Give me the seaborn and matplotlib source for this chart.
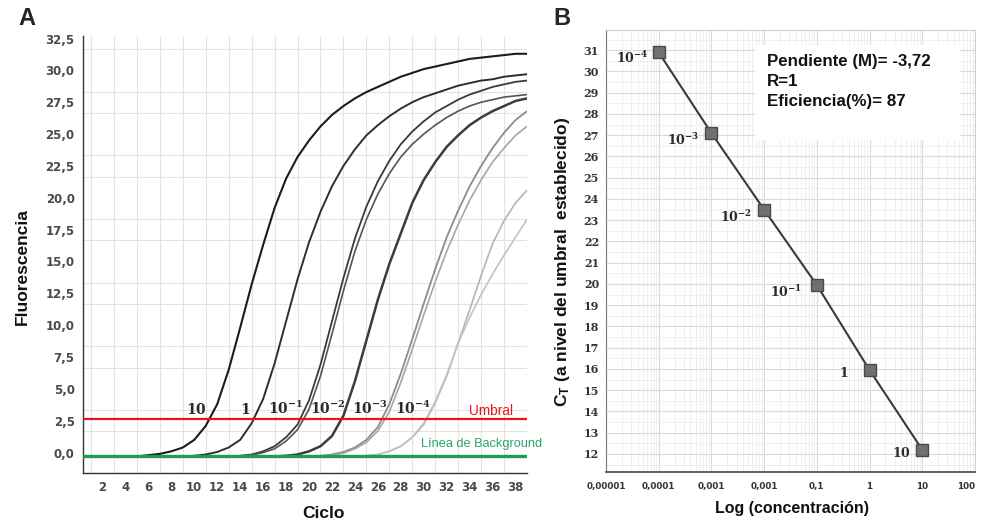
import matplotlib
matplotlib.use("Agg")
import matplotlib.pyplot as plt
import matplotlib.ticker as mticker
from matplotlib.patches import Rectangle
import pandas as pd
import seaborn as sns

# ---------------- panel A: curvas de amplificacion ----------------
cycles = list(range(1, 40))

curve_10 = [-0.3, -0.3, -0.3, -0.3, -0.3, -0.2, -0.1, 0.1, 0.4, 1.0,
            2.1, 3.8, 6.5, 9.8, 13.2, 16.3, 19.2, 21.5, 23.2, 24.5,
            25.6, 26.5, 27.2, 27.8, 28.3, 28.7, 29.1, 29.5, 29.8, 30.1,
            30.3, 30.5, 30.7, 30.9, 31.0, 31.1, 31.2, 31.3, 31.3]
curve_1 = [-0.3, -0.3, -0.3, -0.3, -0.3, -0.3, -0.3, -0.3, -0.3, -0.25,
           -0.15, 0.05, 0.4, 1.0, 2.3, 4.2, 7.0, 10.3, 13.6, 16.5,
           18.9, 20.9, 22.5, 23.8, 24.9, 25.7, 26.4, 27.0, 27.5, 27.9,
           28.2, 28.5, 28.8, 29.0, 29.2, 29.3, 29.5, 29.6, 29.7]
curve_1e1a = [-0.3, -0.3, -0.3, -0.3, -0.3, -0.3, -0.3, -0.3, -0.3, -0.3,
              -0.3, -0.3, -0.3, -0.25, -0.15, 0.1, 0.5, 1.2, 2.2, 4.1,
              6.9, 10.3, 13.7, 16.8, 19.3, 21.3, 22.9, 24.2, 25.2, 26.0,
              26.7, 27.2, 27.7, 28.1, 28.4, 28.7, 28.9, 29.1, 29.2]
curve_1e1b = [-0.3, -0.3, -0.3, -0.3, -0.3, -0.3, -0.3, -0.3, -0.3, -0.3,
              -0.3, -0.3, -0.3, -0.3, -0.2, 0.0, 0.3, 0.9, 1.8, 3.4,
              6.0, 9.3, 12.7, 15.8, 18.3, 20.3, 21.9, 23.2, 24.2, 25.0,
              25.7, 26.3, 26.8, 27.2, 27.5, 27.7, 27.9, 28.0, 28.1]
curve_1e2 = [-0.3, -0.3, -0.3, -0.3, -0.3, -0.3, -0.3, -0.3, -0.3, -0.3,
             -0.3, -0.3, -0.3, -0.3, -0.3, -0.3, -0.3, -0.25, -0.15, 0.1,
             0.5, 1.3, 2.9, 5.6, 8.8, 12.0, 14.8, 17.2, 19.6, 21.4,
             22.8, 24.0, 24.9, 25.7, 26.3, 26.8, 27.2, 27.6, 27.8]
curve_1e3a = [-0.3, -0.3, -0.3, -0.3, -0.3, -0.3, -0.3, -0.3, -0.3, -0.3,
              -0.3, -0.3, -0.3, -0.3, -0.3, -0.3, -0.3, -0.3, -0.3, -0.3,
              -0.25, -0.15, 0.05, 0.4, 1.0, 2.0, 3.8, 6.2, 8.9, 11.7,
              14.4, 16.9, 19.0, 20.9, 22.5, 23.9, 25.1, 26.1, 26.8]
curve_1e3b = [-0.3, -0.3, -0.3, -0.3, -0.3, -0.3, -0.3, -0.3, -0.3, -0.3,
              -0.3, -0.3, -0.3, -0.3, -0.3, -0.3, -0.3, -0.3, -0.3, -0.3,
              -0.3, -0.2, -0.05, 0.3, 0.8, 1.7, 3.2, 5.5, 8.1, 10.8,
              13.4, 15.8, 17.9, 19.8, 21.4, 22.8, 23.9, 24.9, 25.6]
curve_1e4a = [-0.3, -0.3, -0.3, -0.3, -0.3, -0.3, -0.3, -0.3, -0.3, -0.3,
              -0.3, -0.3, -0.3, -0.3, -0.3, -0.3, -0.3, -0.3, -0.3, -0.3,
              -0.3, -0.3, -0.3, -0.3, -0.25, -0.15, 0.1, 0.5, 1.2, 2.2,
              3.9, 6.0, 8.6, 11.2, 13.9, 16.4, 18.2, 19.6, 20.6]
curve_1e4b = [-0.3, -0.3, -0.3, -0.3, -0.3, -0.3, -0.3, -0.3, -0.3, -0.3,
              -0.3, -0.3, -0.3, -0.3, -0.3, -0.3, -0.3, -0.3, -0.3, -0.3,
              -0.3, -0.3, -0.3, -0.3, -0.25, -0.15, 0.1, 0.5, 1.2, 2.3,
              4.0, 6.1, 8.6, 10.6, 12.4, 14.0, 15.5, 16.9, 18.3]

threshold = 2.6
background = -0.3

curve_labels = [r"$\mathbf{10}$", r"$\mathbf{1}$", r"$\mathbf{10}^{\mathbf{-1}}$",
                r"$\mathbf{10}^{\mathbf{-2}}$", r"$\mathbf{10}^{\mathbf{-3}}$",
                r"$\mathbf{10}^{\mathbf{-4}}$"]

a_xticks = list(range(2, 39, 2))
a_yticks = [0, 2.5, 5, 7.5, 10, 12.5, 15, 17.5, 20, 22.5, 25, 27.5, 30, 32.5]
a_yticklabels = ["0,0", "2,5", "5,0", "7,5", "10,0", "12,5", "15,0", "17,5",
                 "20,0", "22,5", "25,0", "27,5", "30,0", "32,5"]

# ---------------- panel B: curva estandar ----------------
conc = [0.0001, 0.001, 0.01, 0.1, 1, 10]
ct = [30.9, 27.1, 23.5, 19.95, 15.95, 12.2]
conc_labels = [r"$\mathbf{10}^{\mathbf{-4}}$", r"$\mathbf{10}^{\mathbf{-3}}$",
               r"$\mathbf{10}^{\mathbf{-2}}$", r"$\mathbf{10}^{\mathbf{-1}}$",
               r"$\mathbf{1}$", r"$\mathbf{10}$"]
b_xticks = [1e-5, 1e-4, 1e-3, 1e-2, 1e-1, 1, 10, 100]
b_xticklabels = ["0,00001", "0,0001", "0,001", "0,001", "0,1", "1", "10", "100"]
b_yticks = list(range(12, 32))
stats_text = "Pendiente (M)= -3,72\nR=1\nEficiencia(%)= 87"

curves = {
    "10": curve_10, "1": curve_1, "1e-1a": curve_1e1a, "1e-1b": curve_1e1b,
    "1e-2": curve_1e2, "1e-3a": curve_1e3a, "1e-3b": curve_1e3b,
    "1e-4a": curve_1e4a, "1e-4b": curve_1e4b,
}
curve_colors = {
    "10": "#1c1c1c", "1": "#2e2e2e", "1e-1a": "#3a3a3a", "1e-1b": "#555555",
    "1e-2": "#3c3c3c", "1e-3a": "#8c8c8c", "1e-3b": "#a6a6a6",
    "1e-4a": "#b4b4b4", "1e-4b": "#c2c2c2",
}
curve_widths = {
    "10": 1.5, "1": 1.4, "1e-1a": 1.3, "1e-1b": 1.2, "1e-2": 1.8,
    "1e-3a": 1.3, "1e-3b": 1.2, "1e-4a": 1.2, "1e-4b": 1.2,
}

sns.set_style("white")
plt.rcParams["font.family"] = ["Liberation Sans", "DejaVu Sans"]
plt.rcParams["mathtext.fontset"] = "dejavuserif"

fig = plt.figure(figsize=(9.81, 5.22), dpi=100)
ax_a = fig.add_axes([0.0846, 0.0939, 0.4526, 0.8372])
ax_b = fig.add_axes([0.6177, 0.0958, 0.3761, 0.8467])

df = pd.DataFrame({"ciclo": cycles, **curves}).melt(
    id_vars="ciclo", var_name="curva", value_name="fluorescencia"
)
for name in curves:
    sns.lineplot(
        data=df[df["curva"] == name], x="ciclo", y="fluorescencia",
        color=curve_colors[name], lw=curve_widths[name], ax=ax_a, zorder=3,
    )

ax_a.axhline(threshold, color="#e8161c", lw=1.6, zorder=4)
ax_a.axhline(background, color="#1f9a5c", lw=2.4, zorder=4)
ax_a.text(35.9, 2.95, "Umbral", color="#e8161c", fontsize=9.8, ha="center", va="baseline")
ax_a.text(29.8, 0.45, "Línea de Background", color="#2aa56a", fontsize=9.2,
          ha="left", va="baseline")

label_x = [10.2, 14.4, 18.0, 21.6, 25.3, 29.1]
for x, lab in zip(label_x, curve_labels):
    ax_a.text(x, 3.05, lab, fontsize=10, color="#2a2a2a", ha="center", va="baseline")

ax_a.set_xlim(0.3, 39.0)
ax_a.set_ylim(-1.6, 32.7)
ax_a.set_xticks(a_xticks)
ax_a.set_yticks(a_yticks, a_yticklabels)
ax_a.xaxis.set_minor_locator(mticker.MultipleLocator(2, offset=1))
ax_a.yaxis.set_minor_locator(mticker.MultipleLocator(5 / 3))
ax_a.grid(which="minor", color="#e3e3e3", lw=0.8)
ax_a.grid(which="major", visible=False)
ax_a.set_axisbelow(True)
for side in ["top", "right"]:
    ax_a.spines[side].set_visible(False)
for side in ["left", "bottom"]:
    ax_a.spines[side].set_color("#333333")
    ax_a.spines[side].set_linewidth(1.0)
ax_a.tick_params(which="major", direction="out", length=3, width=1, color="#333333",
                 labelsize=8.5, labelcolor="#4a4a4a", pad=3)
ax_a.tick_params(which="minor", length=0)
for lab in ax_a.get_xticklabels() + ax_a.get_yticklabels():
    lab.set_family("DejaVu Sans")
    lab.set_fontweight("bold")
ax_a.set_xlabel("")
ax_a.set_ylabel("")

# ---------------- panel B ----------------
sns.lineplot(x=conc, y=ct, ax=ax_b, color="#3a3a3a", lw=1.5, marker="s",
             markersize=8, markerfacecolor="#707070", markeredgecolor="#4a4a4a",
             markeredgewidth=1.0, zorder=3)
ax_b.set_xscale("log")
ax_b.set_xlim(1e-5, 100)
ax_b.set_ylim(11.15, 31.95)
ax_b.set_xticks(b_xticks, b_xticklabels)
ax_b.xaxis.set_minor_locator(mticker.LogLocator(base=10, subs=range(2, 10)))
ax_b.xaxis.set_minor_formatter(mticker.NullFormatter())
ax_b.set_yticks(b_yticks)
ax_b.yaxis.set_minor_locator(mticker.MultipleLocator(0.5))
ax_b.grid(which="major", color="#dadada", lw=0.8)
ax_b.grid(which="minor", color="#ececec", lw=0.6)
ax_b.set_axisbelow(True)
for side in ["top", "right"]:
    ax_b.spines[side].set_color("#cfcfcf")
    ax_b.spines[side].set_linewidth(0.8)
ax_b.spines["left"].set_color("#777777")
ax_b.spines["bottom"].set_color("#555555")
ax_b.spines["bottom"].set_linewidth(1.3)
ax_b.tick_params(which="major", direction="out", length=3, width=0.8, color="#555555")
ax_b.tick_params(which="minor", length=0)
ax_b.tick_params(axis="y", labelsize=8, labelcolor="#333333", pad=2)
ax_b.tick_params(axis="x", labelsize=6.3, labelcolor="#333333", pad=4)
for lab in ax_b.get_yticklabels():
    lab.set_family("DejaVu Serif")
    lab.set_fontweight("bold")
for lab in ax_b.get_xticklabels():
    lab.set_family("DejaVu Sans")
    lab.set_fontweight("bold")
ax_b.get_xticklabels()[-1].set_horizontalalignment("right")
ax_b.set_xlabel("")
ax_b.set_ylabel("")

conc_label_x = [3.2e-5, 2.95e-4, 2.9e-3, 0.026, 0.33, 4.1]
conc_label_y = [30.4, 26.55, 22.9, 19.4, 15.6, 11.85]
for x, y, lab in zip(conc_label_x, conc_label_y, conc_labels):
    ax_b.text(x, y, lab, fontsize=9, color="#2a2a2a", ha="center", va="baseline")

ax_b.add_patch(Rectangle((0.404, 0.751), 0.555, 0.215, transform=ax_b.transAxes,
                         facecolor="white", edgecolor="none", zorder=2))
ax_b.text(0.436, 0.945, stats_text, transform=ax_b.transAxes, fontsize=12.2,
          fontweight="bold", color="#111111", ha="left", va="top", linespacing=1.4,
          zorder=5)

# ---------------- labels ----------------
fig.text(18 / 981, 1 - 30 / 522, "A", fontsize=17, fontweight="bold", va="bottom")
fig.text(553 / 981, 1 - 30 / 522, "B", fontsize=17, fontweight="bold", va="bottom")
fig.text(22 / 981, 1 - 267 / 522, "Fluorescencia", rotation=90, fontsize=12.5,
         fontweight="bold", ha="center", va="center", color="#111111")
fig.text(323 / 981, 1 - 513 / 522, "Ciclo", fontsize=12.5, fontweight="bold",
         ha="center", va="center", color="#111111")
fig.text(792 / 981, 1 - 508 / 522, "Log (concentración)", fontsize=11.5,
         fontweight="bold", ha="center", va="center", color="#111111")
fig.text(562 / 981, 1 - 262 / 522, r"C$_\mathregular{T}$ (a nivel del umbral  establecido)",
         rotation=90, fontsize=12.5, fontweight="bold", ha="center", va="center",
         color="#111111")

fig.savefig("out.png", dpi=100)
